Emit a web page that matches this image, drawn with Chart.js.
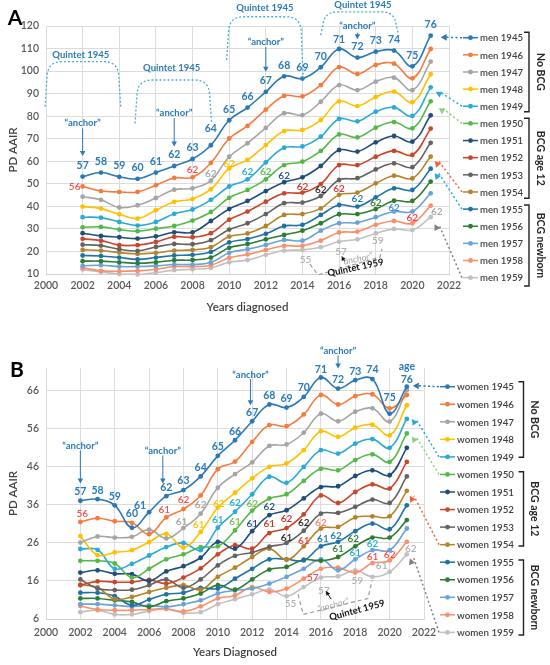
<!DOCTYPE html>
<html>
<head>
<meta charset="utf-8">
<script src="https://cdn.jsdelivr.net/npm/chart.js@4.4.1/dist/chart.umd.min.js"></script>
<style>
  html, body { margin: 0; padding: 0; background: #fff; }
  #wrap { position: relative; width: 550px; height: 665px; }
  canvas { position: absolute; left: 0; }
</style>
</head>
<body>
<div id="wrap">
  <canvas id="chartA" width="550" height="330" style="top:0"></canvas>
  <canvas id="chartB" width="550" height="335" style="top:330px"></canvas>
</div>
<script>
// ---- data ----
const years = [2002, 2003, 2004, 2005, 2006, 2007, 2008, 2009, 2010, 2011,
               2012, 2013, 2014, 2015, 2016, 2017, 2018, 2019, 2020, 2021];
const xTicks = [2000, 2002, 2004, 2006, 2008, 2010, 2012, 2014, 2016, 2018, 2020, 2022];
const yTicksA = [10, 20, 30, 40, 50, 60, 70, 80, 90, 100, 110, 120];
const yTicksB = [6, 16, 26, 36, 46, 56, 66];
const ages1945 = [57, 58, 59, 60, 61, 62, 63, 64, 65, 66, 67, 68, 69, 70, 71, 72, 73, 74, 75, 76];
const cohorts = ['1945', '1946', '1947', '1948', '1949', '1950', '1951', '1952',
                 '1953', '1954', '1955', '1956', '1957', '1958', '1959'];

const men1945 = [53.2, 55, 53.1, 52.2, 55, 57.9, 61, 67.1, 78.2, 83.8, 90.8, 97.7, 96.7, 101.7, 109.8, 106, 108.6, 109.1, 102.1, 115.7];
const men1946 = [48.8, 46.8, 46.4, 46.4, 49.4, 52.6, 52.9, 59.3, 70.1, 75.7, 82.9, 89, 88.8, 93.8, 101.8, 98.7, 102.7, 103.3, 96.8, 109.8];
const men1947 = [44.3, 42.9, 39.5, 40.5, 43.7, 47.4, 48, 51.4, 62, 68, 74.8, 81.3, 80.5, 86.4, 93.8, 91.6, 95.3, 97.1, 91.5, 104.2];
const men1948 = [39.9, 39, 36.5, 34.6, 38.3, 42, 43.3, 47.6, 56.8, 60.6, 67.2, 73.4, 73.9, 78.3, 86.6, 84.5, 88.5, 90.9, 86.2, 98.6];
const men1949 = [35.2, 35, 33.1, 31.5, 33.1, 36.7, 38.6, 42.9, 48.8, 52, 59.5, 66, 66.6, 70.9, 78.8, 77.7, 82, 83.9, 80.1, 92.8];
const men1950 = [30.7, 30.9, 29.7, 29, 30.1, 31.3, 33.7, 37.5, 43.8, 47.3, 52, 58.3, 59.8, 64.6, 71.9, 70.6, 74.9, 77.4, 74.6, 86.6];
const men1951 = [28.1, 26.9, 26.3, 25.7, 26.7, 28.5, 28.5, 33.5, 38.8, 42.4, 46.8, 50.7, 52.9, 57.9, 65, 64.3, 68.4, 71.2, 68.7, 80.4];
const men1952 = [25.6, 24.8, 22.8, 22.8, 24.2, 26.5, 26.3, 28.1, 34.1, 37.7, 42.1, 45.8, 46.1, 49.9, 58.3, 58.3, 62, 64.6, 62.8, 74.5];
const men1953 = [23, 22.6, 21, 20.2, 22, 23.3, 23.2, 25, 29.7, 32.5, 36.6, 41.4, 41.7, 44.6, 51.7, 52.5, 56.4, 59.1, 57.4, 68.2];
const men1954 = [20.7, 20.4, 19.5, 18.9, 19.4, 20.4, 20.7, 21.9, 26.6, 28, 31.3, 36.2, 36.6, 39.1, 45.1, 46.1, 50.2, 53.6, 52.4, 62.1];
const men1955 = [18.2, 18, 17.3, 16.5, 17.3, 18.2, 18.5, 19.8, 24, 25.5, 27.8, 31.3, 31.8, 36.2, 40.6, 39.9, 44, 48, 47.3, 56.7];
const men1956 = [15.7, 15.7, 15.2, 14.8, 15.2, 16.1, 16.2, 17.3, 21.6, 23.3, 25.4, 27.3, 29.2, 32.5, 36.5, 36.6, 38.8, 42.5, 42.4, 51];
const men1957 = [13.6, 13.9, 13.3, 13.3, 13.6, 14.2, 14.2, 15.1, 19.4, 21, 22.9, 25.1, 24.8, 29.2, 32.5, 32.8, 35.2, 37.7, 37.7, 45.8];
const men1958 = [12.7, 11.4, 11.2, 11.4, 12.1, 13.3, 13.3, 13.9, 17.2, 18.7, 20.7, 22.5, 22.5, 24.8, 28.4, 28.8, 31.8, 33.5, 32.5, 40.3];
const men1959 = [12, 10.9, 10, 9.8, 10.6, 11.7, 12.1, 12.7, 15.2, 16.2, 18.5, 20.4, 20.7, 21.9, 24.4, 25.4, 28, 30, 29.5, 35.2];

const women1945 = [37.1, 37.5, 35.9, 30, 34.1, 38.3, 39.9, 43.5, 48.9, 53, 58, 62.4, 61.6, 64.4, 69.5, 66.6, 68.8, 69.1, 60, 67.1];
const women1946 = [31.5, 32.5, 31.7, 31.3, 28.3, 32.7, 34.9, 38.5, 45.4, 47.4, 52.6, 57, 56.7, 59.8, 64.9, 62.4, 64.6, 65.1, 61.4, 64.9];
const women1947 = [26.1, 27.7, 27.4, 27.6, 29.5, 27.2, 29.9, 33.7, 40.5, 44.1, 47.2, 51.5, 51.9, 55, 60, 58, 60.5, 61.4, 57.9, 66.2];
const women1948 = [27.8, 22.8, 23.5, 24.1, 26.2, 28.4, 24.8, 28.9, 35.3, 39.2, 43, 46, 46.9, 50.4, 55.4, 53.9, 56.3, 57.1, 54.3, 62.2];
const women1949 = [24.4, 24.2, 19.2, 20.5, 22.7, 24.9, 26, 24.1, 30, 34.2, 38.8, 43.4, 41.8, 46, 50.4, 49.5, 52.1, 53.3, 51, 58.6];
const women1950 = [21.3, 21.3, 20.6, 16.9, 19.2, 21.7, 23, 24.9, 25.1, 29.3, 34.5, 37.7, 38.8, 42.3, 45.5, 45.1, 47.8, 49.3, 47.3, 54.8];
const women1951 = [18.2, 18.8, 17.9, 17.8, 16, 18.5, 19.9, 22.1, 26.3, 24.5, 29.1, 33.3, 34.6, 37.7, 40.7, 40.9, 43.6, 45.1, 43.8, 51];
const women1952 = [14.9, 15.9, 15.7, 15.7, 16.3, 15.3, 16.9, 19.3, 23, 25.4, 24.5, 28.6, 29.9, 33.5, 38.5, 36.5, 39.4, 41.4, 40.3, 47.3];
const women1953 = [16.4, 14, 13.6, 13.7, 14.9, 16.4, 14.2, 16.4, 20.1, 22.6, 23.5, 25, 26, 29.2, 33.7, 33.9, 35.5, 37.4, 36.5, 43.5];
const women1954 = [15, 14.3, 11.2, 11.8, 13.1, 14.2, 14.9, 13.7, 17.1, 19.5, 22.3, 24.5, 21.6, 25.1, 29.8, 30.2, 32.7, 33, 33, 39.7];
const women1955 = [12.9, 12.9, 12, 9.6, 11.1, 12.5, 12.9, 14.2, 14, 16.6, 19.2, 21.7, 21.7, 21.4, 25.1, 26.3, 29.1, 31.1, 29.6, 35.9];
const women1956 = [11.4, 11.4, 10.9, 10.5, 9.2, 10.7, 11.4, 12.7, 14.9, 13.7, 16.4, 19, 19.7, 21.6, 21.3, 22.3, 25.1, 27.4, 27.4, 32];
const women1957 = [9.9, 9.9, 9.6, 9.3, 9.6, 9.2, 9.9, 10.9, 12.7, 13.5, 14, 15.3, 17.1, 19.2, 21.7, 18.8, 21.7, 24.1, 24.1, 29.8];
const women1958 = [9.4, 8.5, 8.3, 8.3, 8.5, 8.7, 8, 9.3, 11.4, 12.2, 14.4, 13.1, 14, 16.6, 19.2, 19.5, 18.2, 20.7, 21.4, 26.3];
const women1959 = [7.8, 8.3, 7.2, 7.2, 8.1, 8.6, 7.6, 7.8, 9.9, 11.2, 12.5, 13.8, 12, 14.4, 16.9, 17.2, 18.8, 17.1, 18.4, 23];

const menSeries = [men1945, men1946, men1947, men1948, men1949, men1950, men1951, men1952,
                   men1953, men1954, men1955, men1956, men1957, men1958, men1959];
const womenSeries = [women1945, women1946, women1947, women1948, women1949, women1950, women1951, women1952,
                     women1953, women1954, women1955, women1956, women1957, women1958, women1959];
const seriesColors = ['#2a78b5', '#f57a3d', '#a5a5a5', '#ffc000', '#2aaad4', '#55b948', '#1f4e79', '#c9472b',
                      '#636363', '#b5832a', '#1f72a6', '#2e7d32', '#6aa2dc', '#fb8f6b', '#c0c0c0'];

// ---- drawing helpers ----
const FONT = 'Lato, "Open Sans", sans-serif';
const BLUE = '#2b7bb9';

function txt(ctx, s, x, y, font, color, align, rot, maxW) {
  ctx.save();
  ctx.translate(x, y);
  if (rot) ctx.rotate(rot * Math.PI / 180);
  ctx.font = font;
  ctx.fillStyle = color;
  ctx.textAlign = align || 'center';
  ctx.textBaseline = 'middle';
  if (maxW) ctx.fillText(s, 0, 0, maxW);
  else ctx.fillText(s, 0, 0);
  ctx.restore();
}

function head(ctx, x, y, ang, size, color) {
  ctx.save();
  ctx.translate(x, y);
  ctx.rotate(ang);
  ctx.beginPath();
  ctx.moveTo(0, 0);
  ctx.lineTo(-size, -size * 0.55);
  ctx.lineTo(-size, size * 0.55);
  ctx.closePath();
  ctx.fillStyle = color;
  ctx.fill();
  ctx.restore();
}

const notes = {
  id: 'notes',
  afterDraw(chart, args, o) {
    const ctx = chart.ctx;
    const xs = chart.scales.x, ys = chart.scales.y;
    const P = (x, v) => [xs.getPixelForValue(x), ys.getPixelForValue(v)];
    const ds = chart.data.datasets;
    const pt = (i, yr) => {
      const d = ds[i].data.find(p => p.x === yr);
      return P(d.x, d.y);
    };
    const legY = i => o.legend.y0 + i * o.legend.step;
    ctx.save();

    txt(ctx, o.letter, o.letterPos[0], o.letterPos[1], 'bold 21px ' + FONT, '#000');

    // legend
    ds.forEach((d, i) => {
      const x = o.legend.x, y = legY(i);
      ctx.setLineDash([]);
      ctx.strokeStyle = d.borderColor;
      ctx.lineWidth = 1.5;
      ctx.beginPath(); ctx.moveTo(x, y); ctx.lineTo(x + 15, y); ctx.stroke();
      ctx.fillStyle = d.borderColor;
      ctx.beginPath(); ctx.arc(x + 7.5, y, 2.4, 0, Math.PI * 2); ctx.fill();
      txt(ctx, d.label, x + 17, y + 0.5, '600 10px ' + FONT, '#404040', 'left', 0, o.legend.w);
    });

    // group brackets
    ctx.strokeStyle = '#222';
    ctx.lineWidth = 1.4;
    o.groups.forEach(g => {
      const bx = o.groupX;
      ctx.beginPath();
      ctx.moveTo(bx - 5, g[0]); ctx.lineTo(bx, g[0]); ctx.lineTo(bx, g[1]); ctx.lineTo(bx - 5, g[1]);
      ctx.stroke();
      txt(ctx, g[2], o.groupX + 11, (g[0] + g[1]) / 2, 'bold 10.5px ' + FONT, '#262626', 'center', 90);
    });

    // dotted connectors from curve ends to legend
    ctx.lineWidth = 1.5;
    o.connectors.forEach(c => {
      const p = pt(c.ds, 2021);
      const sx = p[0] + c.dx, sy = p[1] + c.dy;
      const ex = o.legend.x - 1, ey = legY(c.ds);
      ctx.strokeStyle = c.color;
      ctx.setLineDash([2, 2.5]);
      ctx.beginPath(); ctx.moveTo(ex, ey); ctx.lineTo(sx + 4, sy); ctx.stroke();
      ctx.setLineDash([]);
      head(ctx, sx, sy, Math.atan2(sy - ey, sx - ex), 6, c.color);
    });

    // quintet brackets
    ctx.lineWidth = 1.3;
    o.quintets.forEach(q => {
      const [x1, y1] = P(q.xl, q.ybl), [x2, y2] = P(q.xr, q.ybr);
      const t = P(q.xl, q.yt)[1], r = 14;
      ctx.strokeStyle = '#45aecb';
      ctx.setLineDash([2, 2]);
      ctx.beginPath();
      ctx.moveTo(x1, y1);
      ctx.lineTo(x1 + 2, t + r);
      ctx.quadraticCurveTo(x1 + 3, t, x1 + r + 3, t);
      ctx.lineTo(x2 - r - 3, t);
      ctx.quadraticCurveTo(x2 - 3, t, x2 - 2, t + r);
      ctx.lineTo(x2, y2);
      ctx.stroke();
      const lp = P(q.lx, q.ly);
      txt(ctx, 'Quintet 1945', lp[0], lp[1], 'bold 9.5px ' + FONT, BLUE);
    });
    ctx.setLineDash([]);

    // "anchor" arrows
    o.anchors.forEach(a => {
      const tp = P(a.x, a.t), f = P(a.x, a.from), e = P(a.x, a.to);
      txt(ctx, '\u201Canchor\u201D', tp[0], tp[1], 'bold 9.5px ' + FONT, BLUE);
      ctx.strokeStyle = BLUE; ctx.lineWidth = 1;
      ctx.beginPath(); ctx.moveTo(f[0], f[1]); ctx.lineTo(e[0], e[1] - 4); ctx.stroke();
      head(ctx, e[0], e[1], Math.PI / 2, 5, BLUE);
    });

    // ages along the 1945 cohort
    years.forEach((yr, i) => {
      const p = pt(0, yr);
      const adj = o.ageAdj[ages1945[i]] || [0, o.ageDy];
      txt(ctx, String(ages1945[i]), p[0] + adj[0], p[1] + adj[1], 'bold 10.5px ' + FONT, BLUE);
    });
    if (o.ageWord) {
      const p = pt(0, 2021);
      txt(ctx, 'age', p[0], p[1] + o.ageWord, 'bold 10.5px ' + FONT, BLUE);
    }

    // age labels on the other cohorts
    o.cohortLabels.forEach(l => {
      const p = pt(l[0], l[1]);
      txt(ctx, l[2], p[0] + l[4], p[1] + l[5], '600 10px ' + FONT, l[3]);
    });

    // quintet 1959
    const q = o.q59;
    ctx.strokeStyle = '#9a9a9a'; ctx.lineWidth = 1.2; ctx.setLineDash([4, 3]);
    ctx.beginPath();
    q.path.forEach((v, i) => { const p = P(v[0], v[1]); i ? ctx.lineTo(p[0], p[1]) : ctx.moveTo(p[0], p[1]); });
    ctx.stroke();
    ctx.setLineDash([]);
    const at = P(q.anchor[0], q.anchor[1]);
    txt(ctx, '\u201Canchor\u201D', at[0], at[1], 'italic 9px ' + FONT, '#a5a5a5', 'center', q.rot);
    const a1 = P(q.arrow[0], q.arrow[1]), a2 = P(q.arrow[2], q.arrow[3]);
    ctx.strokeStyle = '#111'; ctx.lineWidth = 1;
    ctx.beginPath(); ctx.moveTo(a1[0], a1[1]); ctx.lineTo(a2[0], a2[1]); ctx.stroke();
    head(ctx, a2[0], a2[1], Math.atan2(a2[1] - a1[1], a2[0] - a1[0]), 4, '#111');
    const qt = P(q.label[0], q.label[1]);
    txt(ctx, 'Quintet 1959', qt[0], qt[1], 'bold 9.5px ' + FONT, '#111', 'center', q.rot);

    ctx.restore();
  }
};

function makeChart(id, series, prefix, yTicks, yMin, yMax, pad, xTitle, tickPad, titlePad, noteOpts) {
  const tickFont = { family: FONT, size: 10.5, weight: '600' };
  return new Chart(document.getElementById(id), {
    type: 'line',
    data: {
      datasets: cohorts.map((c, i) => ({
        label: prefix + c,
        data: years.map((yr, j) => ({ x: yr, y: series[i][j] })),
        borderColor: seriesColors[i],
        backgroundColor: seriesColors[i],
        borderWidth: 1.6,
        pointRadius: 2.4,
        pointBorderWidth: 0,
        tension: 0.4,
        clip: false
      }))
    },
    options: {
      responsive: false,
      animation: false,
      layout: { padding: pad },
      plugins: { legend: { display: false }, tooltip: { enabled: false }, notes: noteOpts },
      scales: {
        x: {
          type: 'linear', min: 2000, max: 2022,
          afterBuildTicks: s => { s.ticks = xTicks.map(v => ({ value: v })); },
          afterFit: s => { s.height = 40; },
          ticks: { callback: v => String(v), font: tickFont, color: '#595959', padding: tickPad, maxRotation: 0 },
          grid: { color: '#dcdcdc', drawTicks: false },
          border: { color: '#d0d0d0' },
          title: { display: true, text: xTitle, color: '#404040', font: { family: FONT, size: 11.5, weight: '600' }, padding: { top: titlePad, bottom: 0 } }
        },
        y: {
          min: yMin, max: yMax,
          afterBuildTicks: s => { s.ticks = yTicks.map(v => ({ value: v })); },
          afterFit: s => { s.width = 46; },
          ticks: { font: tickFont, color: '#595959', padding: 7 },
          grid: { color: '#dcdcdc', drawTicks: false },
          border: { display: false },
          title: { display: true, text: 'PD AAIR', color: '#404040', font: { family: FONT, size: 11.5, weight: '600' }, padding: { top: 6, bottom: 0 } }
        }
      }
    },
    plugins: [notes]
  });
}

// ---- panel A (men) ----
makeChart('chartA', menSeries, 'men ', yTicksA, 10, 120,
  { left: 0, top: 26, right: 101, bottom: 16 }, 'Years diagnosed', 5, 5, {
  letter: 'A', letterPos: [15, 18],
  legend: { x: 463, y0: 37.7, step: 17.14, w: 43 },
  groupX: 529,
  groups: [[32.3, 111.7, 'No BCG'], [118.3, 198.3, 'BCG age 12'], [205, 286, 'BCG newborn']],
  connectors: [
    { ds: 0, dx: 10, dy: 1.5, color: '#2a78b5' },
    { ds: 4, dx: 5, dy: 4.5, color: '#29a9d6' },
    { ds: 5, dx: 8, dy: 7, color: '#8cd17d' },
    { ds: 9, dx: 4, dy: 4.5, color: '#f2613f' },
    { ds: 10, dx: 4, dy: 4.6, color: '#29a9d6' },
    { ds: 14, dx: 4, dy: 7, color: '#7f7f7f' }
  ],
  quintets: [
    { xl: 1999.95, ybl: 84.2, xr: 2004.08, ybr: 84.2, yt: 104.2, lx: 2001.9, ly: 107.1 },
    { xl: 2004.86, ybl: 76.8, xr: 2009.04, ybr: 76.8, yt: 96.05, lx: 2006.86, ly: 101.2 },
    { xl: 2009.86, ybl: 104.9, xr: 2014.04, ybr: 96.8, yt: 124.1, lx: 2011.95, ly: 127.85 },
    { xl: 2015.0, ybl: 116, xr: 2019.23, ybr: 116.8, yt: 126.3, lx: 2017.3, ly: 129.3 }
  ],
  anchors: [
    { x: 2002, t: 77.1, from: 74.6, to: 62.3 },
    { x: 2007, t: 81.3, from: 79.2, to: 66.5 },
    { x: 2012, t: 113, from: 110.7, to: 99.7 },
    { x: 2017, t: 120, from: 117, to: 114.1 }
  ],
  ageDy: -11, ageAdj: { 64: [0, -17], 71: [0, -9] },
  ageWord: 0,
  cohortLabels: [
    [1, 2002, '56', '#f0504a', -8, 0], [1, 2008, '62', '#f0504a', 0, -7],
    [2, 2009, '62', '#a5a5a5', 0, -7], [3, 2010, '62', '#ffc000', 0, -5],
    [4, 2011, '62', '#1eaed6', 0, -7.5], [5, 2012, '62', '#5cbd4e', 0, -7.5],
    [6, 2013, '62', '#1f4e79', 0, -6.5], [7, 2014, '62', '#c0392b', 0, -6],
    [8, 2015, '62', '#262626', 0, -6], [9, 2016, '62', '#e8313a', 0, -6.5],
    [10, 2017, '62', '#1f78b4', 0, -7.5], [11, 2018, '62', '#2e7d32', 0, -6.5],
    [12, 2019, '62', '#3d8fd6', 0, -4], [13, 2020, '62', '#f03c3c', 0, -5],
    [14, 2021, '62', '#a5a5a5', 6, -5],
    [14, 2014, '55', '#b0b0b0', 3, 10], [14, 2016, '57', '#b0b0b0', 2, 10], [14, 2018, '59', '#b0b0b0', 2, 7]
  ],
  q59: {
    path: [[2014.41, 14.4], [2014.85, 9.6], [2018.23, 17.5], [2018.34, 21.1]],
    anchor: [2016.96, 16.6], arrow: [2016.3, 15.6, 2016.15, 17.8],
    label: [2016.9, 12.8], rot: -12
  }
});

// ---- panel B (women) ----
makeChart('chartB', womenSeries, 'women ', yTicksB, 6, 72,
  { left: 0, top: 38, right: 126, bottom: 6 }, 'Years Diagnosed', 7, 4, {
  letter: 'B', letterPos: [17, 40],
  legend: { x: 440, y0: 56.7, step: 17.55, w: 57 },
  groupX: 523.5,
  groups: [[51.7, 127.3, 'No BCG'], [141.7, 216, 'BCG age 12'], [230, 305, 'BCG newborn']],
  connectors: [
    { ds: 0, dx: 6, dy: -1, color: '#2a78b5' },
    { ds: 4, dx: 5, dy: 0, color: '#29a9d6' },
    { ds: 5, dx: 5, dy: 3, color: '#8cd17d' },
    { ds: 9, dx: 3, dy: 5, color: '#f2613f' },
    { ds: 14, dx: 3, dy: 4, color: '#7f7f7f' }
  ],
  quintets: [],
  anchors: [
    { x: 2002, t: 51.4, from: 50.3, to: 41.6 },
    { x: 2006.8, t: 50.1, from: 49, to: 41.6 },
    { x: 2011.9, t: 70.1, from: 69.1, to: 62.2 },
    { x: 2017, t: 76.5, from: 75.3, to: 71.9 }
  ],
  ageDy: -9, ageAdj: { 60: [0, -14], 61: [-9, -7], 75: [0, -16], 76: [0, -7.5], 71: [0, -7.5] },
  ageWord: -20,
  cohortLabels: [
    [1, 2002, '56', '#f0504a', 2, -8.5], [1, 2007, '61', '#f0504a', -2, -8], [1, 2008, '62', '#f0504a', 0, -9.5],
    [2, 2008, '61', '#a0a0a0', -2, -6], [2, 2009, '62', '#a0a0a0', 0, -9],
    [3, 2009, '61', '#ffc000', -2, -7], [3, 2010, '62', '#ffc000', 1, -4],
    [4, 2010, '61', '#1eb0dc', 0, -8], [4, 2011, '62', '#1eb0dc', 0, -9],
    [5, 2011, '61', '#6cc24a', 0, -8.5], [5, 2012, '62', '#6cc24a', 0, -7],
    [6, 2012, '61', '#1f4e79', 0, -7.5], [6, 2013, '62', '#1f4e79', 0, -8],
    [7, 2013, '61', '#c0392b', 0, -9], [7, 2014, '62', '#c0392b', 0, -9.5],
    [8, 2014, '61', '#262626', 0, -5.5], [8, 2015, '62', '#262626', 0, -8],
    [9, 2015, '61', '#e8453c', 0, -6], [9, 2016, '62', '#f4856a', 0, -5.5],
    [10, 2016, '61', '#1f78b4', 2, -8], [10, 2017, '62', '#1f78b4', -2, -6],
    [11, 2017, '61', '#2e7d32', 0, -8.5], [11, 2018, '62', '#2e7d32', -2, -8],
    [12, 2018, '61', '#1eb0dc', 0, -7], [12, 2019, '62', '#1eb0dc', 0, -6.5],
    [13, 2015, '57', '#f0504a', 9, -1], [13, 2019, '61', '#f0504a', 0, -6], [13, 2020, '62', '#f0504a', 0, -6],
    [14, 2014, '55', '#b0b0b0', 4, 8], [14, 2016, '57', '#b0b0b0', 3, 13.5], [14, 2018, '59', '#b0b0b0', 2, 10.5],
    [14, 2020, '61', '#b0b0b0', -8, -6], [14, 2021, '62', '#b0b0b0', 4, -6]
  ],
  q59: {
    path: [[2014.67, 12.5], [2014.97, 7.2], [2018.74, 11.4], [2018.98, 16.2]],
    anchor: [2016.71, 9.6], arrow: [2016.6, 11.2, 2016.3, 13.3],
    label: [2018.1, 8.3], rot: -15
  }
});
</script>
</body>
</html>
